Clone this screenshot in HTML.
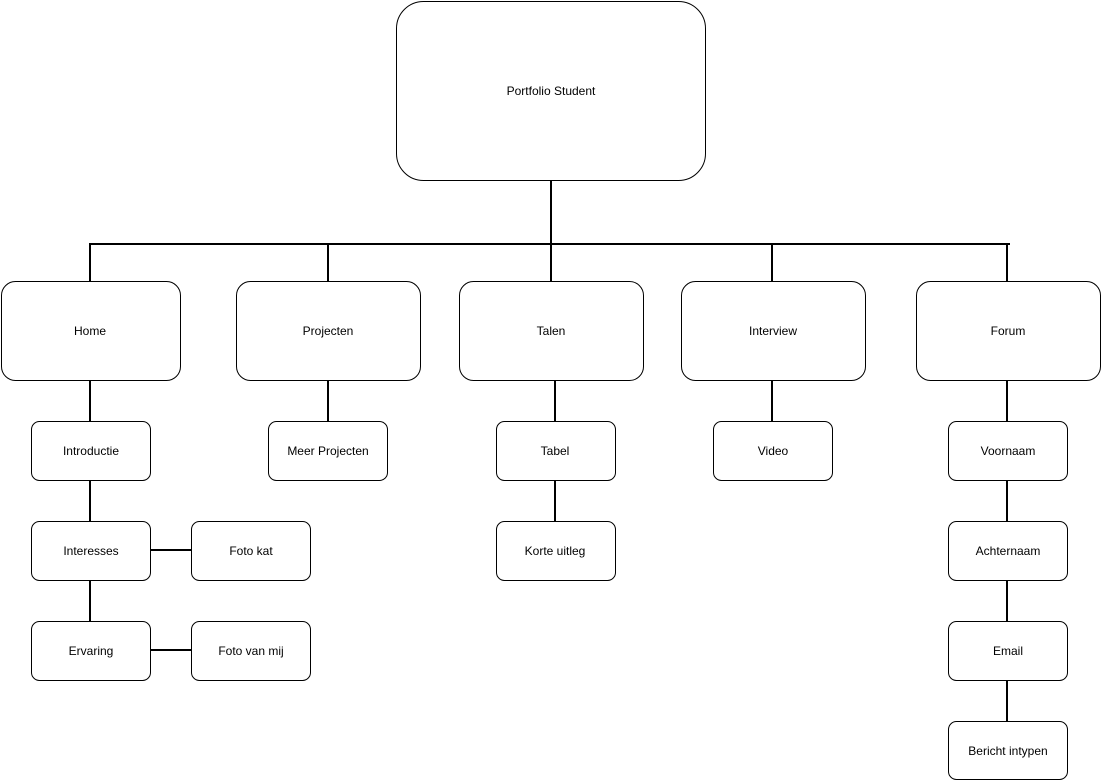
<!DOCTYPE html>
<html><head><meta charset="utf-8"><style>
html,body{margin:0;padding:0;background:#fff;}
svg{display:block;}
text{font-family:"Liberation Sans",Arial,sans-serif;font-size:12px;fill:#000;text-anchor:middle;dominant-baseline:central;}
</style></head><body>
<svg width="1101" height="781" viewBox="0 0 1101 781" xmlns="http://www.w3.org/2000/svg">
<g stroke="#000" stroke-width="2" fill="none">
<line x1="551" y1="180" x2="551" y2="244"/>
<line x1="90" y1="244" x2="1010" y2="244"/>
<line x1="90" y1="243" x2="90" y2="281"/>
<line x1="328" y1="243" x2="328" y2="281"/>
<line x1="551" y1="243" x2="551" y2="281"/>
<line x1="772" y1="243" x2="772" y2="281"/>
<line x1="1007" y1="243" x2="1007" y2="281"/>
<line x1="90" y1="380" x2="90" y2="621"/>
<line x1="150" y1="550" x2="191" y2="550"/>
<line x1="150" y1="650" x2="191" y2="650"/>
<line x1="328" y1="380" x2="328" y2="421"/>
<line x1="555" y1="380" x2="555" y2="521"/>
<line x1="772" y1="380" x2="772" y2="421"/>
<line x1="1007" y1="380" x2="1007" y2="721"/>
</g>
<g stroke="#000" stroke-width="1" fill="#fff">
<rect x="396.5" y="1.5" width="309" height="179" rx="27"/>
<rect x="1.5" y="281.5" width="179" height="99" rx="14"/>
<rect x="236.5" y="281.5" width="184" height="99" rx="14"/>
<rect x="459.5" y="281.5" width="184" height="99" rx="14"/>
<rect x="681.5" y="281.5" width="184" height="99" rx="14"/>
<rect x="916.5" y="281.5" width="184" height="99" rx="14"/>
<rect x="31.5" y="421.5" width="119" height="59" rx="8"/>
<rect x="31.5" y="521.5" width="119" height="59" rx="8"/>
<rect x="31.5" y="621.5" width="119" height="59" rx="8"/>
<rect x="191.5" y="521.5" width="119" height="59" rx="8"/>
<rect x="191.5" y="621.5" width="119" height="59" rx="8"/>
<rect x="268.5" y="421.5" width="119" height="59" rx="8"/>
<rect x="496.5" y="421.5" width="119" height="59" rx="8"/>
<rect x="496.5" y="521.5" width="119" height="59" rx="8"/>
<rect x="713.5" y="421.5" width="119" height="59" rx="8"/>
<rect x="948.5" y="421.5" width="119" height="59" rx="8"/>
<rect x="948.5" y="521.5" width="119" height="59" rx="8"/>
<rect x="948.5" y="621.5" width="119" height="59" rx="8"/>
<rect x="948.5" y="721.5" width="119" height="58" rx="8"/>
</g>
<text x="551" y="91">Portfolio Student</text>
<text x="90" y="331">Home</text>
<text x="328" y="331">Projecten</text>
<text x="551" y="331">Talen</text>
<text x="773" y="331">Interview</text>
<text x="1008" y="331">Forum</text>
<text x="91" y="451">Introductie</text>
<text x="91" y="551">Interesses</text>
<text x="91" y="651">Ervaring</text>
<text x="251" y="551">Foto kat</text>
<text x="251" y="651">Foto van mij</text>
<text x="328" y="451">Meer Projecten</text>
<text x="555" y="451">Tabel</text>
<text x="555" y="551">Korte uitleg</text>
<text x="773" y="451">Video</text>
<text x="1008" y="451">Voornaam</text>
<text x="1008" y="551">Achternaam</text>
<text x="1008" y="651">Email</text>
<text x="1008" y="751">Bericht intypen</text>
</svg>
</body></html>
